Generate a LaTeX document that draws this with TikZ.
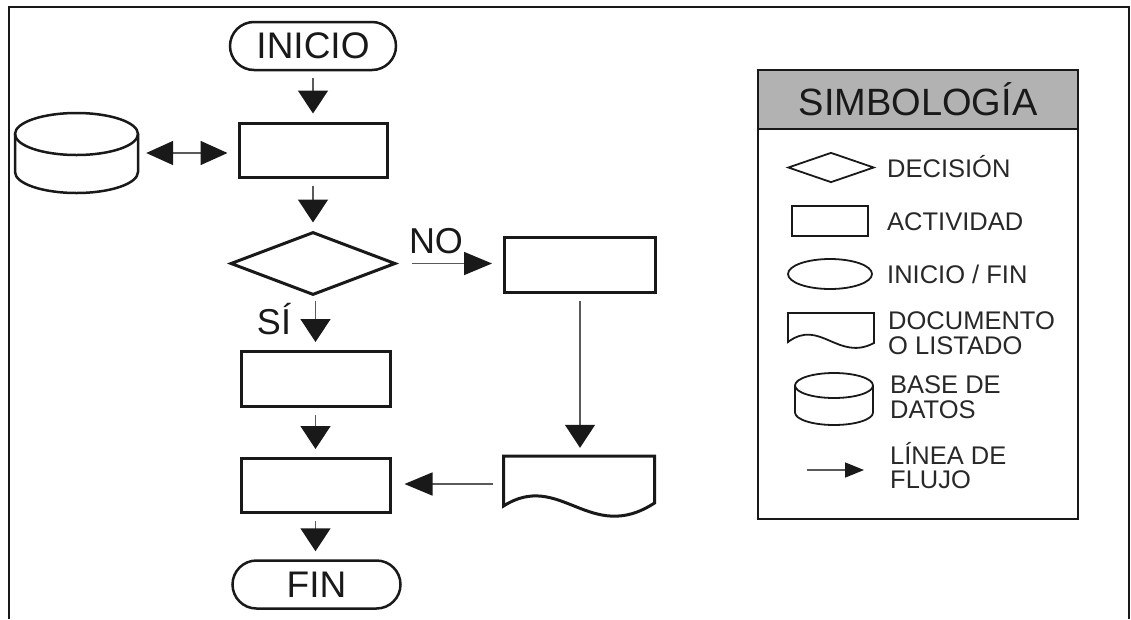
\documentclass[tikz,border=0pt]{standalone}
\usepackage{fontspec}
\setmainfont{Liberation Sans}
\usetikzlibrary{shapes.geometric,arrows.meta,calc}
\definecolor{ink}{RGB}{25,25,25}
\definecolor{shaft}{RGB}{90,90,90}
\definecolor{hdr}{RGB}{178,178,178}
\definecolor{ltxt}{RGB}{40,40,40}
\begin{document}
\begin{tikzpicture}[x=1pt,y=-1pt,
  box/.style={draw=ink,line width=3pt,minimum width=148pt,minimum height=54pt,inner sep=0pt},
  term/.style={draw=ink,line width=2.5pt,rounded corners=24pt,minimum width=166pt,minimum height=48pt,inner sep=0pt,font=\fontsize{37}{40}\selectfont,text=ink},
  vflow/.style={draw=shaft,line width=1.6pt,-{Triangle[length=23pt,width=30pt,color=ink]},shorten <=7pt,shorten >=8pt},
  hflow/.style={draw=shaft,line width=1.6pt,-{Triangle[length=28pt,width=23pt,color=ink]}},
  lbl/.style={font=\fontsize{36}{40}\selectfont,text=ink,inner sep=0pt,anchor=base},
  leg/.style={font=\fontsize{25.5}{26}\selectfont,text=ltxt,inner sep=0pt,anchor=base west},
  legshape/.style={draw=ink,line width=1.8pt,inner sep=0pt},
  cyl/.style={draw=ink,line width=2.5pt},
  lcyl/.style={draw=ink,line width=1.8pt}
]
\useasboundingbox (0,0) rectangle (1131,619);
% outer frame
\draw[ink,line width=1.8pt] (9,619) -- (9,7) -- (1129,7) -- (1129,619);

% main flow
\node[term] (ini) at (313,46) {INICIO};
\node[box] (r1) at (313,150) {};
\node[draw=ink,line width=3pt,diamond,aspect=2.6,minimum width=165pt,minimum height=63pt,inner sep=0pt] (dec) at (313,263.5) {};
\node[box,minimum width=151pt,minimum height=55pt] (rno) at (580,265) {};
\node[box,minimum width=149pt,minimum height=55pt] (r2) at (315.5,379) {};
\node[box,minimum width=149pt] (r3) at (315.5,485.5) {};
\node[term,minimum width=168pt] (fin) at (316.5,584.5) {FIN};

% database
\node[minimum width=123pt,minimum height=80pt,inner sep=0pt] (db) at (76.5,153) {};
\draw[cyl] (15,134) -- (15,172) arc[start angle=180,end angle=0,x radius=61.5,y radius=21] -- (138,134);
\draw[cyl] (76.5,134) ellipse[x radius=61.5,y radius=21];

% document
\node[minimum width=151pt,minimum height=56pt,inner sep=0pt] (doc) at (579,484) {};
\draw[line width=3pt,draw=ink] (503.5,456) -- (654.5,456) -- (654.5,503) .. controls (590,545) and (560,470) .. (503.5,506) -- cycle;

% connectors
\draw[draw=shaft,line width=1.6pt,{Triangle[length=27pt,width=24pt,color=ink]}-{Triangle[length=27pt,width=24pt,color=ink]},shorten <=8pt,shorten >=10pt] (db.east) -- (db.east -| r1.west);
\draw[vflow] (ini) -- (r1);
\draw[vflow] (r1) -- (dec);
\draw[vflow,shorten <=4pt] (dec.south -| r2.north) -- (r2.north);
\draw[vflow] (r2) -- (r3);
\draw[vflow] (r3.south) -- (r3.south |- fin.north);
\draw[hflow,shorten <=15pt,shorten >=11pt] (dec.east) -- (dec.east -| rno.west);
\draw[vflow,line width=1.4pt] (rno.south) -- (rno.south |- doc.north);
\draw[hflow,shorten <=10pt,shorten >=13pt] (doc.west) -- (doc.west -| r3.east);

\node[lbl] (no) at (436,253) {NO};
\node[lbl] (si) at (274,334) {SÍ};

% legend
\draw[draw=ink,line width=2pt] (758,70) rectangle (1078,519);
\filldraw[fill=hdr,draw=ink,line width=2pt] (758,70) rectangle (1078,129);
\node[font=\fontsize{38}{40}\selectfont,text=ink,anchor=base,inner sep=0pt] (tit) at (918,115) {SIMBOLOGÍA};

\node[legshape,diamond,aspect=2.9,minimum width=86pt,minimum height=30pt] (ldec) at (831,167.5) {};
\node[legshape,minimum width=76pt,minimum height=30pt] (lact) at (830,221) {};
\node[legshape,ellipse,minimum width=84pt,minimum height=30pt] (lini) at (830,274) {};
\draw[legshape] (788,313) -- (874,313) -- (874,343) .. controls (838,362) and (820,318) .. (788,342) -- cycle;
\draw[lcyl] (795,385.5) -- (795,412.5) arc[start angle=180,end angle=0,x radius=39,y radius=12.5] -- (873,385.5);
\draw[lcyl] (834,385.5) ellipse[x radius=39,y radius=12.5];
\coordinate (la1) at (807,470);
\coordinate (la2) at (864,470);
\draw[draw=shaft,line width=1.6pt,-{Triangle[length=19pt,width=15pt,color=ink]}] (la1) -- (la2);

\node[leg] (t1) at (887,177) {DECISIÓN};
\node[leg] (t2) at (887,230.5) {ACTIVIDAD};
\node[leg] (t3) at (887,283.5) {INICIO / FIN};
\node[leg] (t4) at (888,329.5) {DOCUMENTO};
\node[leg] (t5) at (888,354.5) {O LISTADO};
\node[leg] (t6) at (890,393.5) {BASE DE};
\node[leg] (t7) at (890,418) {DATOS};
\node[leg] (t8) at (890,464) {LÍNEA DE};
\node[leg] (t9) at (890,488) {FLUJO};
\end{tikzpicture}
\end{document}
